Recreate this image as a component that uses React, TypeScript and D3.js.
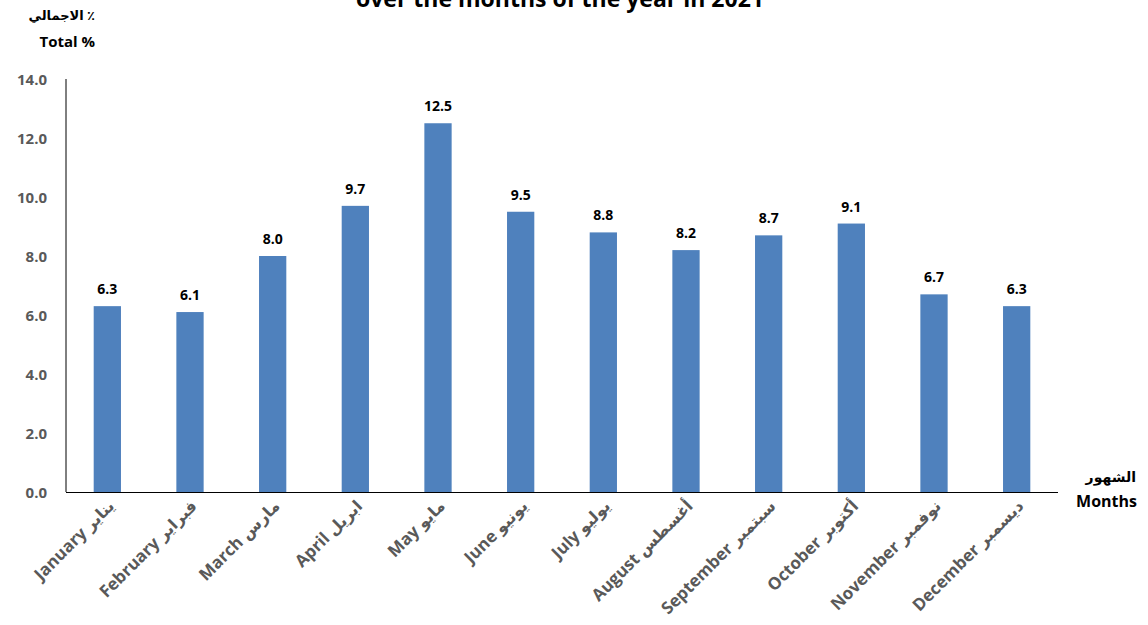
import React from "react";
import * as d3 from "d3";

const monthsEn = ["January", "February", "March", "April", "May", "June", "July", "August", "September", "October", "November", "December"];
const monthsAr = ["يناير", "فبراير", "مارس", "ابريل", "مايو", "يونيو", "يوليو", "أغسطس", "سبتمبر", "أكتوبر", "نوفمبر", "ديسمبر"];
const values = [6.3, 6.1, 8.0, 9.7, 12.5, 9.5, 8.8, 8.2, 8.7, 9.1, 6.7, 6.3];
const yTicks = [0, 2, 4, 6, 8, 10, 12, 14];

const W = 1148;
const H = 625;
const left = 66;
const right = 1058;
const top = 79;
const bottom = 492;
const font = "'Open Sans', 'DejaVu Sans', sans-serif";

export default function App() {
  const x = d3.scaleBand<number>().domain(d3.range(12)).range([left, right]).paddingInner(0.67).paddingOuter(0.335);
  const y = d3.scaleLinear().domain([0, 14]).range([bottom, top]);
  return (
    <svg width={W} height={H} style={{ position: "absolute", left: 0, top: 0, background: "#fff" }}>
      <text x={560} y={7} textAnchor="middle" fontFamily={font} fontWeight="bold" fontSize={23} fill="#000">
        over the months of the year  in 2021
      </text>
      <text x={95} y={20} textAnchor="end" fontFamily={font} fontWeight="bold" fontSize={13} fill="#000">الاجمالي ٪</text>
      <text x={95} y={47} textAnchor="end" fontFamily={font} fontWeight="bold" fontSize={15} fill="#000">Total %</text>
      {yTicks.map((t) => (
        <text key={t} x={47} y={y(t) + 6} textAnchor="end" fontFamily={font} fontWeight="bold" fontSize={15} fill="#595959">
          {t.toFixed(1)}
        </text>
      ))}
      {values.map((v, i) => (
        <g key={i}>
          <rect x={x(i)!} y={y(v)} width={x.bandwidth()} height={y(0) - y(v)} fill="#4F81BD" />
          <text x={x(i)! + x.bandwidth() / 2} y={y(v) - 12} textAnchor="middle" fontFamily={font} fontWeight="bold" fontSize={14} fill="#000">
            {v.toFixed(1)}
          </text>
          <text
            transform={`translate(${x(i)! + x.bandwidth() / 2 + 8},${bottom + 15}) rotate(-45)`}
            textAnchor="end"
            fontFamily={font}
            fontWeight="bold"
            fontSize={17}
            fill="#595959"
          >
            {monthsEn[i] + " "}
            <tspan fontSize={16}>{monthsAr[i]}</tspan>
          </text>
        </g>
      ))}
      <line x1={left} x2={left} y1={top} y2={bottom} stroke="#000" strokeWidth={1} />
      <line x1={left} x2={right} y1={bottom + 0.5} y2={bottom + 0.5} stroke="#000" strokeWidth={1} />
      <text x={1136} y={482} textAnchor="end" fontFamily={font} fontWeight="bold" fontSize={14} fill="#000">الشهور</text>
      <text x={1137} y={507} textAnchor="end" fontFamily={font} fontWeight="bold" fontSize={16} fill="#000">Months</text>
    </svg>
  );
}
